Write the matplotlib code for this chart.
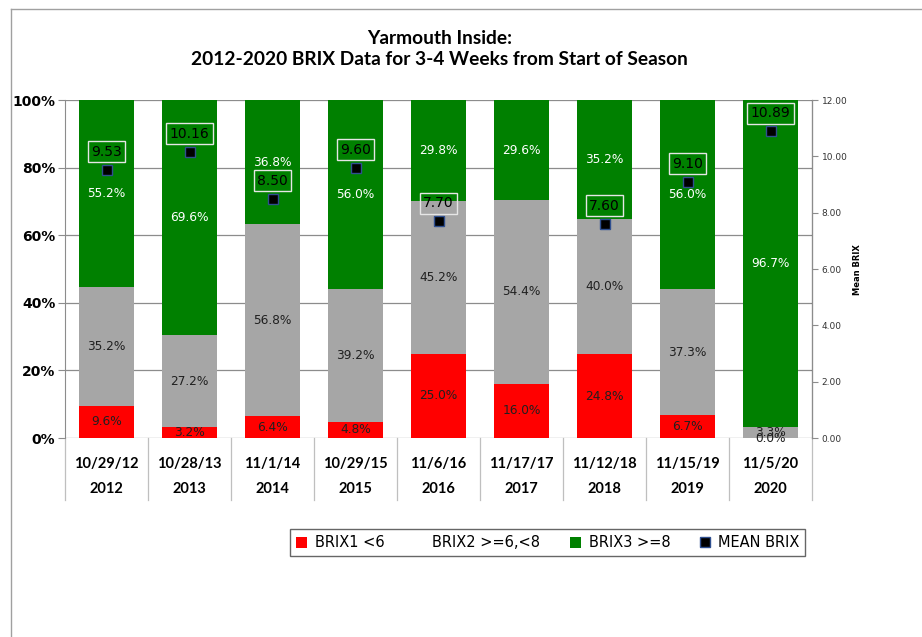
import matplotlib
matplotlib.use('Agg')
import matplotlib.pyplot as plt
import numpy as np
from matplotlib.lines import Line2D
from matplotlib.patches import Patch
import matplotlib.transforms as mtransforms

# data
dates = ['10/29/12', '10/28/13', '11/1/14', '10/29/15', '11/6/16', '11/17/17', '11/12/18', '11/15/19', '11/5/20']
years = ['2012', '2013', '2014', '2015', '2016', '2017', '2018', '2019', '2020']
brix1 = [9.6, 3.2, 6.4, 4.8, 25.0, 16.0, 24.8, 6.7, 0.0]
brix2 = [35.2, 27.2, 56.8, 39.2, 45.2, 54.4, 40.0, 37.3, 3.3]
brix3 = [55.2, 69.6, 36.8, 56.0, 29.8, 29.6, 35.2, 56.0, 96.7]
mean_brix = [9.53, 10.16, 8.50, 9.60, 7.70, np.nan, 7.60, 9.10, 10.89]

red = '#FF0000'
grey = '#A6A6A6'
green = '#008000'
narrow = ['Lato', 'DejaVu Sans']

fig = plt.figure(figsize=(9.22, 6.37), dpi=100)
ax = fig.add_axes([0.0705, 0.3124, 0.8102, 0.5306])
ax2 = ax.twinx()

x = np.arange(len(years))
b1 = np.array(brix1)
b2 = np.array(brix2)
b3 = np.array(brix3)
w = 0.66
ax.bar(x, b1, w, color=red, zorder=3)
ax.bar(x, b2, w, bottom=b1, color=grey, zorder=3)
ax.bar(x, b3, w, bottom=b1 + b2, color=green, zorder=3)

for i in range(len(x)):
    ax.text(x[i], b1[i] / 2, '%.1f%%' % b1[i], ha='center', va='center', fontsize=8.7, color='#202020', zorder=5)
    ax.text(x[i], b1[i] + b2[i] / 2, '%.1f%%' % b2[i], ha='center', va='center', fontsize=8.7, color='#202020', zorder=5)
    ax.text(x[i], b1[i] + b2[i] + b3[i] / 2, '%.1f%%' % b3[i], ha='center', va='center', fontsize=8.7, color='white', zorder=5)

ax.set_xlim(-0.5, 8.5)
ax.set_ylim(0, 100)
ax.set_yticks([0, 20, 40, 60, 80, 100])
ax.set_yticklabels(['0%', '20%', '40%', '60%', '80%', '100%'], fontsize=10, fontweight='bold')
ax.yaxis.grid(True, color='#8C8C8C', linewidth=0.9, zorder=0)
ax.set_axisbelow(True)
ax.set_xticks([])
for s in ['top', 'bottom']:
    ax.spines[s].set_visible(False)
ax.spines['left'].set_color('#8C8C8C')
ax.tick_params(axis='y', direction='out', length=5, color='#8C8C8C', pad=2)

# mean brix on the secondary axis
ax2.set_ylim(0, 12)
ax2.set_yticks(np.arange(0, 13, 2))
ax2.set_yticklabels(['%.2f' % v for v in np.arange(0, 13, 2)], fontsize=6.5, color='#333333')
ax2.tick_params(axis='y', direction='out', length=4, color='#8C8C8C', pad=3)
for s in ['top', 'bottom', 'left']:
    ax2.spines[s].set_visible(False)
ax2.spines['right'].set_color('#8C8C8C')
ax2.plot(x, mean_brix, linestyle='none', marker='s', markersize=7.5, markerfacecolor='black',
         markeredgecolor='#2F4F8F', markeredgewidth=1, zorder=6)
for i, m in enumerate(mean_brix):
    if np.isnan(m):
        continue
    ax2.annotate('%.2f' % m, (x[i], m), xytext=(0, 13), textcoords='offset points',
                 ha='center', va='center', fontsize=10, color='black', zorder=7,
                 bbox=dict(boxstyle='square,pad=0.25', facecolor='none', edgecolor='#E6E6E6', linewidth=1))

# category table under the bars
trans = mtransforms.blended_transform_factory(ax.transData, ax.transAxes)
for i in range(len(x)):
    ax.text(x[i], -0.077, dates[i], transform=trans, ha='center', va='center', fontsize=10.5,
            fontweight='bold', family=narrow)
    ax.text(x[i], -0.151, years[i], transform=trans, ha='center', va='center', fontsize=10.5,
            fontweight='bold', family=narrow)
for bx in np.arange(-0.5, 9, 1):
    ax.plot([bx, bx], [0, -0.183], transform=trans, color='#BFBFBF', linewidth=0.9, clip_on=False)

fig.text(857 / 922, 1 - 270 / 637, 'Mean BRIX', rotation=90, fontsize=6, fontweight='bold',
         ha='center', va='center')

fig.text(0.477, 0.940, 'Yarmouth Inside:', ha='center', va='center', fontsize=13.8, fontweight='bold', family=narrow)
fig.text(0.477, 0.907, '2012-2020 BRIX Data for 3-4 Weeks from Start of Season', ha='center', va='center',
         fontsize=13.8, fontweight='bold', family=narrow)

handles = [Patch(facecolor=red), Patch(facecolor='none', edgecolor='none'), Patch(facecolor=green),
           Line2D([], [], linestyle='none', marker='s', markersize=7, markerfacecolor='black',
                  markeredgecolor='#2F4F8F')]
labels = ['BRIX1 <6', 'BRIX2 >=6,<8', 'BRIX3 >=8', 'MEAN BRIX']
leg = fig.legend(handles, labels, loc='center', bbox_to_anchor=(0.594, 0.148), ncol=4, fontsize=10.5,
                 frameon=True, fancybox=False, edgecolor='#404040', handlelength=0.8, handleheight=0.8,
                 handletextpad=0.5, columnspacing=2.0, borderpad=0.4, borderaxespad=0)
leg.get_frame().set_linewidth(1)

# outer chart border
fig.add_artist(Line2D([11 / 922, 11 / 922], [0, 1 - 9 / 637], color='#A0A0A0', linewidth=1))
fig.add_artist(Line2D([11 / 922, 1], [1 - 9 / 637, 1 - 9 / 637], color='#A0A0A0', linewidth=1))

fig.savefig('out.png', dpi=100)
